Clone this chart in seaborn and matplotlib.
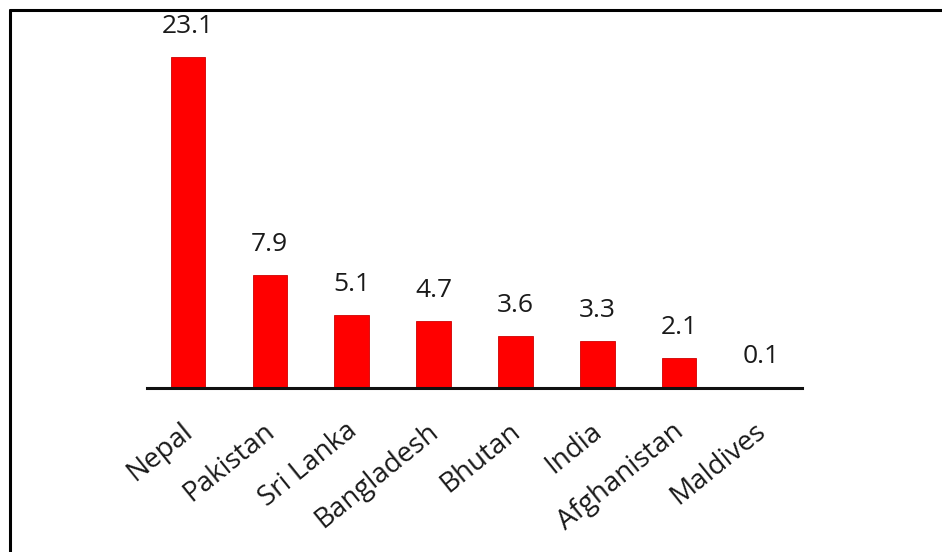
import matplotlib
matplotlib.use("Agg")
import matplotlib.pyplot as plt
import matplotlib.transforms as mtransforms
import seaborn as sns
import pandas as pd
from matplotlib.lines import Line2D

countries = ["Nepal", "Pakistan", "Sri Lanka", "Bangladesh", "Bhutan", "India", "Afghanistan", "Maldives"]
values = [23.1, 7.9, 5.1, 4.7, 3.6, 3.3, 2.1, 0.1]
value_labels = ["23.1", "7.9", "5.1", "4.7", "3.6", "3.3", "2.1", "0.1"]

df = pd.DataFrame({"country": countries, "value": values})

sns.set_style("white")
plt.rcParams["font.family"] = ["Open Sans", "DejaVu Sans"]

W, H = 942, 552
fig = plt.figure(figsize=(W / 100, H / 100), dpi=100)
fig.patch.set_facecolor("white")

# axes: x from 147 to 802 px, baseline at y=388 px
left = 147 / W
right = 802 / W
bottom = 1 - 388 / H
px_per_unit = 331 / 23.1
top_px = 9
height = (388 - top_px) / H
ax = fig.add_axes([left, bottom, right - left, height])

sns.barplot(data=df, x="country", y="value", color="#ff0000", width=0.42,
            saturation=1, ax=ax, edgecolor="#d00000", linewidth=0.6)

ax.set_xlim(-0.5, 7.5)
ax.set_ylim(0, (388 - top_px) / px_per_unit)

for i, (v, lab) in enumerate(zip(values, value_labels)):
    ax.annotate(lab, (i, v), xytext=(0, 13), textcoords="offset points",
                ha="center", va="bottom", fontsize=19, color="#1a1a1a",
                fontweight="medium")

ax.set_xlabel("")
ax.set_ylabel("")
ax.set_yticks([])
for s in ["top", "right", "left"]:
    ax.spines[s].set_visible(False)
ax.spines["bottom"].set_linewidth(2.2)
ax.spines["bottom"].set_color("#111111")
ax.tick_params(axis="x", length=0, pad=21)
offset = mtransforms.ScaledTranslation(-7 / 100, 0, fig.dpi_scale_trans)
for t in ax.get_xticklabels():
    t.set_rotation(39)
    t.set_ha("right")
    t.set_rotation_mode("anchor")
    t.set_fontsize(20)
    t.set_color("#1a1a1a")
    t.set_fontweight("medium")
    t.set_transform(t.get_transform() + offset)

# image frame (left and top)
fig.add_artist(Line2D([9.5 / W, 9.5 / W], [0, 1 - 9.5 / H], transform=fig.transFigure,
                      color="black", linewidth=2.2))
fig.add_artist(Line2D([9.5 / W, 1], [1 - 9.5 / H, 1 - 9.5 / H], transform=fig.transFigure,
                      color="black", linewidth=2.2))

fig.savefig("out.png", dpi=100, facecolor="white")
